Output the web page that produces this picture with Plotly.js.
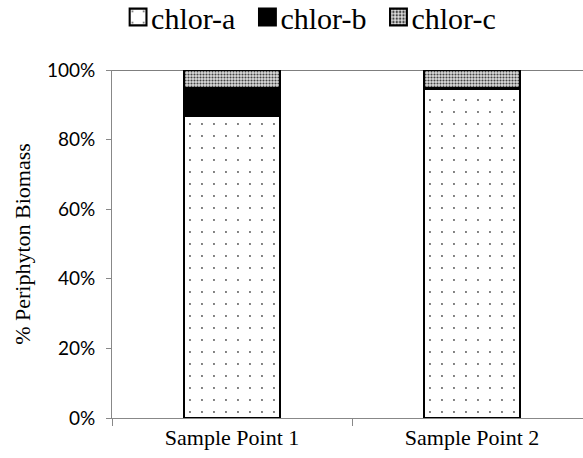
<!DOCTYPE html>
<html><head><meta charset="utf-8">
<script src="https://cdn.plot.ly/plotly-3.0.1.min.js"></script>
<style>html,body{margin:0;padding:0;background:#fff}</style>
</head><body>
<div id="chart" style="width:583px;height:458px"></div>
<script>
const categories = ["Sample Point 1", "Sample Point 2"];
const chlorA = [86.6, 94.5];
const chlorB = [8.2, 0.5];
const chlorC = [5.2, 5.0];
const yTickVals = [0, 20, 40, 60, 80, 100];
const yTickText = ["0%", "20%", "40%", "60%", "80%", "100%"];

const serif = "Liberation Serif, Times New Roman, serif";
const lineStyle = {color: "#000", width: 1.5};
const traces = [
  {type: "bar", name: "chlor-a", x: categories, y: chlorA, width: 0.4,
   marker: {color: "#fff", line: lineStyle,
     pattern: {shape: ".", fgcolor: "#555", bgcolor: "#fff", size: 12, solidity: 0.02}}},
  {type: "bar", name: "chlor-b", x: categories, y: chlorB, width: 0.4,
   marker: {color: "#000", line: lineStyle}},
  {type: "bar", name: "chlor-c", x: categories, y: chlorC, width: 0.4,
   marker: {color: "#fff", line: lineStyle,
     pattern: {shape: ".", fgcolor: "#444", bgcolor: "#ddd", size: 3, solidity: 0.4}}}
];

const layout = {
  width: 583, height: 458,
  margin: {l: 112, r: 0, t: 70, b: 40},
  barmode: "stack",
  paper_bgcolor: "#fff", plot_bgcolor: "#fff",
  showlegend: true,
  legend: {orientation: "h", x: 0.525, xref: "container", xanchor: "center", y: 1, yref: "container", yanchor: "top",
    font: {family: serif, size: 30, color: "#000"},
    traceorder: "normal", itemwidth: 30, tracegroupgap: 0},
  xaxis: {type: "category", range: [-0.5, 1.462], tickson: "boundaries", ticks: "outside", ticklen: 7,
    tickcolor: "#888", showline: true, linecolor: "#888", linewidth: 1, showgrid: false,
    tickfont: {family: serif, size: 22, color: "#000"}},
  yaxis: {range: [0, 100], tickvals: yTickVals, ticktext: yTickText, ticks: "outside", ticklen: 5,
    ticklabelstandoff: 7,
    tickcolor: "#888", showline: true, linecolor: "#888", linewidth: 1, showgrid: false, zeroline: false,
    tickfont: {family: "Lato, Open Sans, sans-serif", size: 19, color: "#000"},
    title: {text: "% Periphyton Biomass", standoff: 10,
      font: {family: serif, size: 22, color: "#000"}}},
  shapes: [{type: "line", xref: "paper", yref: "y", x0: 0, x1: 1, y0: 100, y1: 100,
    line: {color: "#000", width: 1}, layer: "below"}]
};
Plotly.newPlot("chart", traces, layout, {displayModeBar: false, staticPlot: true}).then(function (gd) {
  gd.querySelectorAll(".legendpoints path").forEach(function (p) {
    const t = p.getAttribute("transform") || "";
    p.setAttribute("transform", t + " translate(7,0) scale(1.4)");
  });
  const lg = gd.querySelector("g.legend");
  if (lg) {
    const t = lg.getAttribute("transform") || "";
    lg.setAttribute("transform", t + " translate(0,-9)");
  }
});
</script>
</body></html>
